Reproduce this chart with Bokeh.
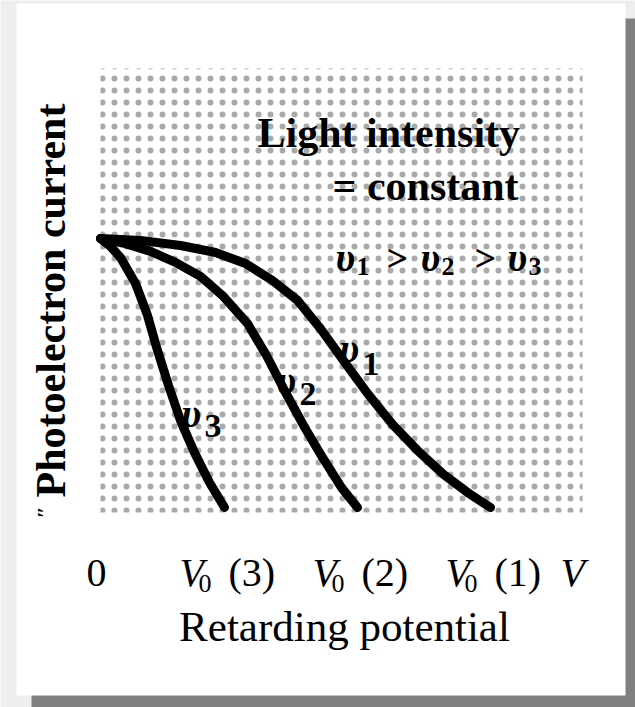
import math

from bokeh.core.properties import value
from bokeh.embed import file_html
from bokeh.models import Range1d
from bokeh.plotting import figure
from bokeh.resources import INLINE

# Photoelectron current (fraction of saturation) against retarding potential
# (arbitrary units) for three light frequencies at constant intensity.
potential_nu1 = [0.0, 0.40, 0.80, 1.15, 1.45, 1.72, 1.97, 2.20, 2.43, 2.67, 2.92, 3.17, 3.43, 3.70, 3.90]
current_nu1 = [1.0, 0.993, 0.974, 0.948, 0.907, 0.844, 0.770, 0.665, 0.546, 0.424, 0.309, 0.212, 0.123, 0.048, 0.0]

potential_nu2 = [0.0, 0.25, 0.50, 0.75, 1.00, 1.22, 1.47, 1.66, 1.84, 2.03, 2.22, 2.41, 2.57]
current_nu2 = [1.0, 0.981, 0.952, 0.911, 0.859, 0.788, 0.684, 0.565, 0.435, 0.305, 0.186, 0.074, 0.0]

potential_nu3 = [0.0, 0.10, 0.20, 0.35, 0.47, 0.57, 0.68, 0.80, 0.94, 1.09, 1.24]
current_nu3 = [1.0, 0.970, 0.929, 0.833, 0.714, 0.584, 0.454, 0.323, 0.204, 0.093, 0.0]

# stopping potentials V0(3), V0(2), V0(1)
stopping_potentials = [1.24, 2.57, 3.90]
stopping_names = ["(3)", "(2)", "(1)"]

# ---- page geometry (pixels) ------------------------------------------------
W, H = 635, 707
ORIGIN_PX = (100, 507)     # where V = 0, I = 0 sits on the page
PX_PER_V = 100.0
PX_PER_I = 269.0


def dx(px):
    return (px - ORIGIN_PX[0]) / PX_PER_V


def dy(py):
    return (ORIGIN_PX[1] - py) / PX_PER_I


p = figure(
    width=W, height=H,
    x_range=Range1d(dx(0), dx(W)), y_range=Range1d(dy(H), dy(0)),
    output_backend="svg", toolbar_location=None, min_border=0,
    background_fill_color="#eeeeee", border_fill_color="#eeeeee",
)
p.axis.visible = False
p.grid.visible = False
p.outline_line_color = None

# drop shadow and white sheet
p.quad(left=[dx(31)], right=[dx(645)], top=[dy(18)], bottom=[dy(715)],
       fill_color="#808080", line_color=None)
p.quad(left=[dx(16)], right=[dx(625)], top=[dy(3)], bottom=[dy(695)],
       fill_color="white", line_color=None)

# stippled background of the diagram
p.quad(left=[dx(100)], right=[dx(582)], top=[dy(68)], bottom=[dy(512)],
       fill_alpha=0, line_color=None,
       hatch_pattern="dot", hatch_scale=12, hatch_weight=0.8,
       hatch_color="#333333", hatch_alpha=0.42)

# the three current curves
for xs, ys in ((potential_nu1, current_nu1),
               (potential_nu2, current_nu2),
               (potential_nu3, current_nu3)):
    p.line(xs, ys, line_color="black", line_width=9,
           line_cap="round", line_join="round")

SERIF = value("Liberation Serif")


def put(px, py, txt, size, style="normal", align="left",
        baseline="alphabetic", angle=0.0):
    p.text(x=[dx(px)], y=[dy(py)], text=[txt], text_font=SERIF,
           text_font_size=f"{size}px", text_font_style=style,
           text_color="black", text_align=align, text_baseline=baseline,
           angle=angle)


def put_data(x, py, txt, size, style="normal", align="left", xoff=0):
    p.text(x=[x], y=[dy(py)], text=[txt], text_font=SERIF,
           text_font_size=f"{size}px", text_font_style=style,
           text_color="black", text_align=align, text_baseline="alphabetic",
           x_offset=xoff)


# annotations in the upper right
put(257, 132, "Light intensity", 42, "bold")
put(332, 185, "= constant", 42, "bold")


def nu(px, py, sub, size, sub_size, sub_drop, gap):
    put(px, py, "\u03c5", size, "bold italic")
    put(px + gap, py + sub_drop, sub, sub_size, "bold")


nu(335, 257, "1", 40, 26, 9, 21)
put(386, 257, ">", 38, "bold")
nu(420, 257, "2", 40, 26, 9, 21)
put(474, 257, ">", 38, "bold")
nu(507, 257, "3", 40, 26, 9, 21)

# curve labels
nu(339, 348, "1", 40, 34, 15, 23)
nu(276, 380, "2", 40, 34, 13, 23)
nu(181, 413, "3", 40, 34, 12, 23)

# horizontal axis: origin, stopping potentials and variable name
put_data(0.0, 572, "0", 40, align="center", xoff=-4)
for v0, name in zip(stopping_potentials, stopping_names):
    put_data(v0, 572, "V", 40, "italic", xoff=-45)
    put_data(v0, 583, "0", 26, xoff=-26)
    put_data(v0, 572, name, 40, xoff=4)
put(560, 572, "V", 40, "italic")
put(344, 626, "Retarding potential", 43, align="center")

# vertical axis title
put(50, 300, "Photoelectron current", 42, "bold", align="center",
    baseline="middle", angle=math.pi / 2)
put(44, 512, "\u2033", 22, "bold", align="center", baseline="middle",
    angle=math.pi / 2)

open("out.html", "w").write(file_html(p, INLINE))
